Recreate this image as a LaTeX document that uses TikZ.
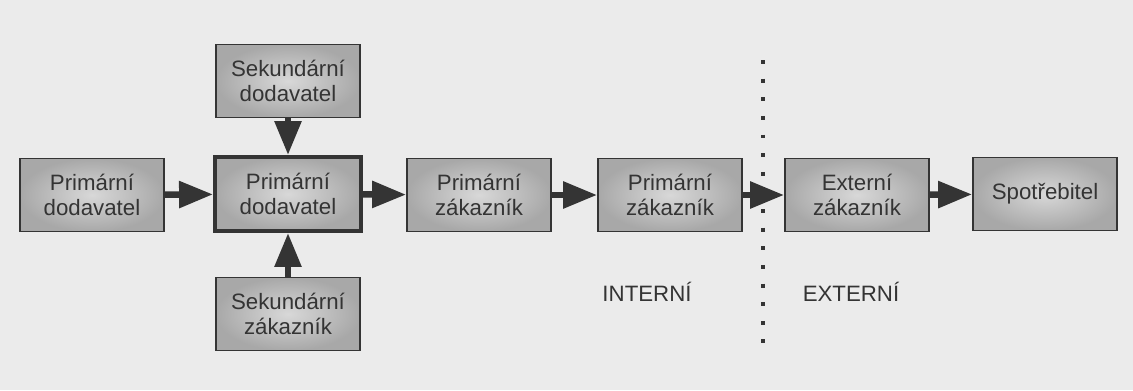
\documentclass[tikz,border=0pt]{standalone}
\usepackage{fontspec}
\setmainfont{Liberation Sans}
\usetikzlibrary{arrows.meta}
\definecolor{paper}{HTML}{EBEBEB}
\definecolor{ink}{HTML}{343434}
\definecolor{boxedge}{HTML}{A8A8A8}
\definecolor{boxmid}{HTML}{D8D8D8}
\tikzset{
  chainbox/.style={draw=ink, line width=1.3pt, inner color=boxmid, outer color=boxedge,
    minimum width=4.33cm, minimum height=2.2cm, inner sep=0pt, align=center,
    text=ink, font=\fontsize{19}{21.5}\selectfont},
  keybox/.style={chainbox, line width=3.4pt, minimum width=4.38cm, minimum height=2.22cm},
  flow/.style={draw=ink, line width=5.5pt, -{Triangle[length=29pt,width=22pt]}},
  sidelabel/.style={text=ink, font=\fontsize{19}{21.5}\selectfont}
}
\begin{document}
\begin{tikzpicture}[x=0.03cm, y=-0.03cm]
  \fill[paper] (0,0) rectangle (1133,390);
  \useasboundingbox (0,0) rectangle (1133,390);
  % ---- supply chain row ----
  \node[chainbox] (pdod)  at (92,195)   {Primární\\dodavatel};
  \node[keybox]   (core)  at (288,194)  {Primární\\dodavatel};
  \node[chainbox] (pzak1) at (479,195)  {Primární\\zákazník};
  \node[chainbox] (pzak2) at (670,195)  {Primární\\zákazník};
  \node[chainbox] (ezak)  at (857,195)  {Externí\\zákazník};
  \node[chainbox] (spot)  at (1045,194) {Spotřebitel};
  % ---- secondary partners ----
  \node[chainbox] (sdod) at (288,81)  {Sekundární\\dodavatel};
  \node[chainbox] (szak) at (288,314) {Sekundární\\zákazník};
  % ---- flows ----
  \draw[flow] (pdod) -- (core);
  \draw[flow] (core) -- (pzak1);
  \draw[flow] (pzak1) -- (pzak2);
  \draw[flow] (pzak2) -- (ezak);
  \draw[flow] (ezak) -- (spot);
  \draw[flow] (sdod) -- (core);
  \draw[flow] (szak) -- (core);
  % ---- internal / external boundary ----
  \coordinate (bndtop) at (763,60);
  \coordinate (bndbot) at (763,354);
  \draw[ink, line width=3.4pt, dash pattern=on 3.4pt off 12.5pt] (bndtop) -- (bndbot);
  \node[sidelabel] (intl) at (647,292) {INTERNÍ};
  \node[sidelabel] (extl) at (851,292) {EXTERNÍ};
\end{tikzpicture}
\end{document}
